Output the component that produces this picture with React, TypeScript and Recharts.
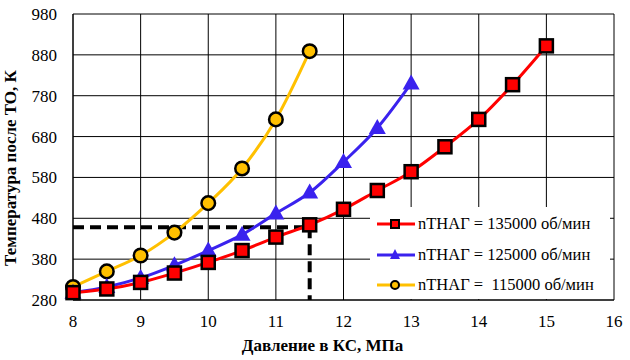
import React from 'react';
import {
  LineChart,
  Line,
  XAxis,
  YAxis,
  CartesianGrid,
  Legend,
  ReferenceLine,
} from 'recharts';

// давление в КС, МПа
const pressure135 = [8, 8.5, 9, 9.5, 10, 10.5, 11, 11.5, 12, 12.5, 13, 13.5, 14, 14.5, 15];
const pressure125 = [8, 8.5, 9, 9.5, 10, 10.5, 11, 11.5, 12, 12.5, 13];
const pressure115 = [8, 8.5, 9, 9.5, 10, 10.5, 11, 11.5];

// температура после ТО, К
const temp135 = [298, 307, 323, 346, 372, 401, 434, 464, 502, 548, 594, 655, 722, 807, 902];
const temp125 = [298, 312, 334, 365, 401, 440, 492, 543, 618, 701, 810];
const temp115 = [312, 350, 389, 445, 517, 602, 722, 889];

const xTicks = [8, 9, 10, 11, 12, 13, 14, 15, 16];
const yTicks = [280, 380, 480, 580, 680, 780, 880, 980];

// рабочая точка (пунктир)
const opPressure = 11.5;
const opTemp = 458;

const seriesNames = [
  'nТНАГ = 135000 об/мин',
  'nТНАГ = 125000 об/мин',
  'nТНАГ =  115000 об/мин',
];

const RED = '#FF0000';
const BLUE = '#3A22EE';
const YELLOW = '#FFC000';
const FONT = 'Liberation Serif';

const toPoints = (xs: number[], ys: number[]) => xs.map((p, i) => ({ p, t: ys[i] }));

const data135 = toPoints(pressure135, temp135);
const data125 = toPoints(pressure125, temp125);
const data115 = toPoints(pressure115, temp115);

const SquareDot = (props: any) => {
  const { cx, cy, index } = props;
  if (cx == null || cy == null) return null;
  return (
    <rect key={`sq-${index}`} x={cx - 6.5} y={cy - 6.5} width={13} height={13}
      fill={RED} stroke="#000" strokeWidth={2.5} />
  );
};

const TriangleDot = (props: any) => {
  const { cx, cy, index } = props;
  if (cx == null || cy == null) return null;
  return (
    <polygon key={`tr-${index}`}
      points={`${cx},${cy - 9} ${cx - 8.5},${cy + 6} ${cx + 8.5},${cy + 6}`}
      fill={BLUE} />
  );
};

const CircleDot = (props: any) => {
  const { cx, cy, index } = props;
  if (cx == null || cy == null) return null;
  return (
    <circle key={`ci-${index}`} cx={cx} cy={cy} r={6.8}
      fill={YELLOW} stroke="#000" strokeWidth={2.5} />
  );
};

const LegendMarker = ({ kind, color }: { kind: number; color: string }) => (
  <svg width={40} height={16} style={{ display: 'block' }}>
    <line x1={1} y1={8} x2={39} y2={8} stroke={color} strokeWidth={3} />
    {kind === 0 && <rect x={15} y={4} width={8} height={8} fill={RED} stroke="#000" strokeWidth={2} />}
    {kind === 1 && <polygon points="19,2 14,12 24,12" fill={BLUE} />}
    {kind === 2 && <circle cx={19} cy={8} r={4} fill={YELLOW} stroke="#000" strokeWidth={2} />}
  </svg>
);

const CustomLegend = () => {
  const colors = [RED, BLUE, YELLOW];
  return (
    <div style={{ paddingTop: 2 }}>
      {seriesNames.map((name, i) => (
        <div key={name} style={{ display: 'flex', alignItems: 'center', height: 30.5, paddingLeft: 6 }}>
          <LegendMarker kind={i} color={colors[i]} />
          <span style={{ fontFamily: FONT, fontSize: 16.5, color: '#000', marginLeft: 2, whiteSpace: 'pre' }}>
            {name}
          </span>
        </div>
      ))}
    </div>
  );
};

export default function App() {
  return (
    <div style={{ position: 'absolute', left: 0, top: 0, width: 630, height: 360, background: '#fff', fontFamily: FONT }}>
      <LineChart
        width={630}
        height={360}
        margin={{ top: 14, right: 16, left: 0, bottom: 0 }}
      >
        <CartesianGrid stroke="#000" strokeWidth={1} />
        <XAxis
          type="number"
          dataKey="p"
          domain={[8, 16]}
          ticks={xTicks}
          interval={0}
          height={60}
          tickLine={false}
          axisLine={{ stroke: '#000' }}
          tick={{ fill: '#000', fontSize: 17, fontFamily: FONT }}
          tickMargin={9}
          label={{
            value: 'Давление в КС, МПа',
            position: 'insideBottom',
            offset: 9,
            dx: -21,
            style: { fontFamily: FONT, fontSize: 17, fontWeight: 'bold', fill: '#000' },
          }}
        />
        <YAxis
          type="number"
          domain={[280, 980]}
          ticks={yTicks}
          interval={0}
          width={73}
          tickLine={false}
          axisLine={{ stroke: '#000' }}
          tick={{ fill: '#000', fontSize: 17, fontFamily: FONT }}
          tickMargin={10}
          label={{
            value: 'Температура после  ТО, К',
            angle: -90,
            position: 'insideLeft',
            offset: 10,
            dy: 11,
            style: { fontFamily: FONT, fontSize: 17, fontWeight: 'bold', fill: '#000', textAnchor: 'middle', whiteSpace: 'pre' },
          }}
        />
        <ReferenceLine
          segment={[{ x: 8, y: opTemp }, { x: opPressure, y: opTemp }]}
          stroke="#000"
          strokeWidth={4}
          strokeDasharray="11 6"
        />
        <ReferenceLine
          segment={[{ x: opPressure, y: opTemp }, { x: opPressure, y: 280 }]}
          stroke="#000"
          strokeWidth={4}
          strokeDasharray="11 6"
        />
        <Line
          data={data115}
          dataKey="t"
          name={seriesNames[2]}
          type="monotone"
          stroke={YELLOW}
          strokeWidth={3}
          dot={CircleDot}
          activeDot={false}
          isAnimationActive={false}
        />
        <Line
          data={data125}
          dataKey="t"
          name={seriesNames[1]}
          type="monotone"
          stroke={BLUE}
          strokeWidth={3}
          dot={TriangleDot}
          activeDot={false}
          isAnimationActive={false}
        />
        <Line
          data={data135}
          dataKey="t"
          name={seriesNames[0]}
          type="monotone"
          stroke={RED}
          strokeWidth={3}
          dot={SquareDot}
          activeDot={false}
          isAnimationActive={false}
        />
        <Legend
          layout="vertical"
          align="center"
          verticalAlign="middle"
          content={<CustomLegend />}
          wrapperStyle={{
            position: 'absolute',
            left: 370,
            top: 207,
            width: 240,
            height: 92,
            background: '#fff',
            boxSizing: 'border-box',
          }}
        />
      </LineChart>
    </div>
  );
}
